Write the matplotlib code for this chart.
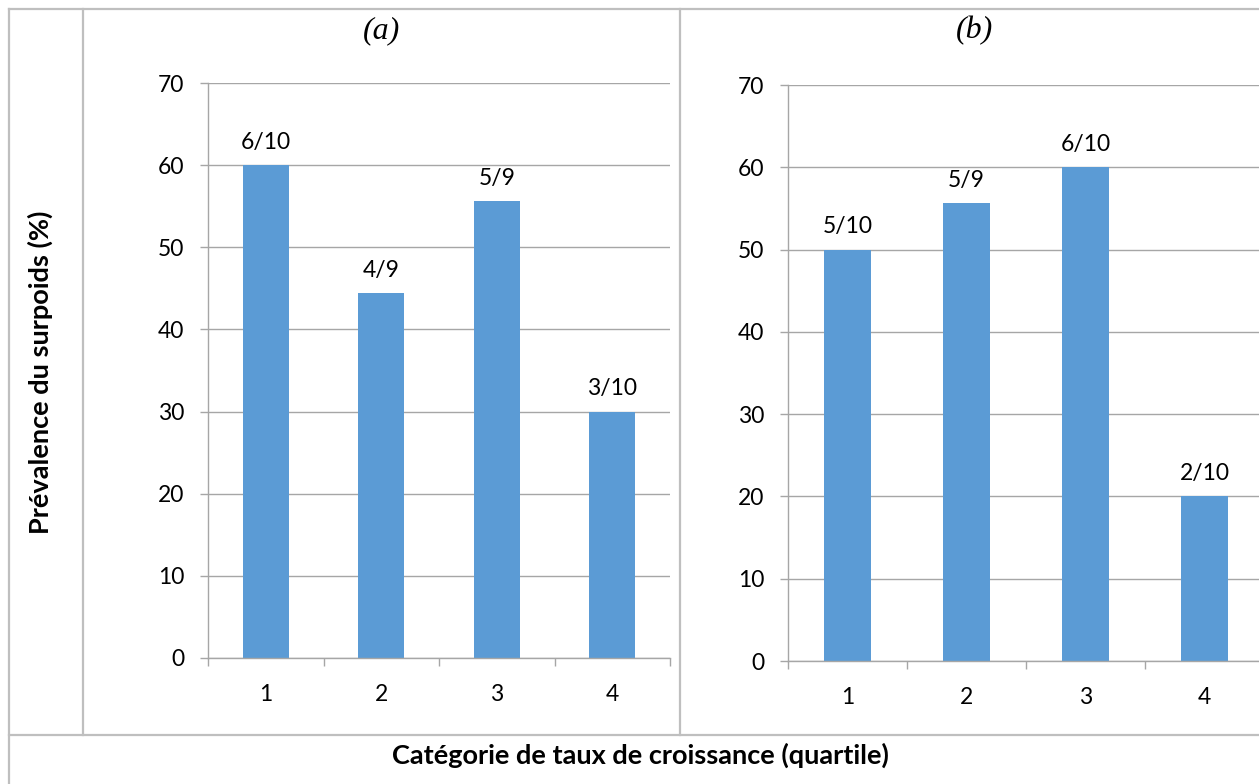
import matplotlib
matplotlib.use("Agg")
import matplotlib.pyplot as plt
from matplotlib.lines import Line2D

# data
categories = ["1", "2", "3", "4"]
prev_a = [60.0, 44.4, 55.6, 30.0]
labels_a = ["6/10", "4/9", "5/9", "3/10"]
prev_b = [50.0, 55.6, 60.0, 20.0]
labels_b = ["5/10", "5/9", "6/10", "2/10"]
yticks = [0, 10, 20, 30, 40, 50, 60, 70]

W, H = 1259, 784
BAR = "#5b9bd5"
GRID = "#a6a6a6"
BORDER = "#bfbfbf"

plt.rcParams["font.family"] = ["Lato", "DejaVu Sans"]

fig = plt.figure(figsize=(W / 100, H / 100), dpi=100)


def fx(px):
    return px / W


def fy(py):
    return 1 - py / H


def panel(rect, vals, labs):
    ax = fig.add_axes(rect)
    x = list(range(len(categories)))
    ax.bar(x, vals, width=0.4, color=BAR, zorder=2)
    for xi, v, t in zip(x, vals, labs):
        ax.annotate(t, (xi, v), xytext=(0, 9), textcoords="offset points",
                    ha="center", va="bottom", fontsize=16.5, color="#000000")
    ax.set_xlim(-0.5, 3.5)
    ax.set_ylim(0, 70)
    ax.set_yticks(yticks)
    ax.set_xticks(x)
    ax.set_xticklabels(categories)
    ax.set_xticks([-0.5, 0.5, 1.5, 2.5, 3.5], minor=True)
    ax.tick_params(axis="x", which="major", length=0, pad=19, labelsize=16.5)
    ax.tick_params(axis="x", which="minor", length=6, width=1, color=GRID,
                   direction="out")
    ax.tick_params(axis="y", length=6, width=1, color=GRID, pad=11,
                   labelsize=16.5)
    ax.yaxis.grid(True, color=GRID, lw=1, zorder=0)
    ax.set_axisbelow(True)
    for s in ["top", "right"]:
        ax.spines[s].set_visible(False)
    for s in ["left", "bottom"]:
        ax.spines[s].set_color(GRID)
        ax.spines[s].set_linewidth(1)
    return ax


panel([fx(208), fy(658), fx(670) - fx(208), fy(83) - fy(658)], prev_a, labels_a)
panel([fx(788), fy(661), fx(1264) - fx(788), fy(85) - fy(661)], prev_b, labels_b)

# table borders around the panels
segments = [
    ((9, 1259), (9, 9)),
    ((9, 9), (9, 784)),
    ((83, 83), (9, 735)),
    ((680, 680), (9, 735)),
    ((9, 1259), (735, 735)),
]
for xs, ys in segments:
    fig.add_artist(Line2D([fx(v) for v in xs], [fy(v) for v in ys],
                          color=BORDER, lw=1.6, transform=fig.transFigure))

fig.text(fx(382), fy(31), "(a)", ha="center", va="center", fontsize=23,
         family="Liberation Serif", style="italic")
fig.text(fx(975), fy(31), "(b)", ha="center", va="center", fontsize=23,
         family="Liberation Serif", style="italic")
fig.text(fx(40), fy(372), "Prévalence du surpoids (%)", rotation=90,
         ha="center", va="center", fontsize=19.5, fontweight="bold")
fig.text(fx(640), fy(755), "Catégorie de taux de croissance (quartile)",
         ha="center", va="center", fontsize=19.5, fontweight="bold")

fig.savefig("out.png", dpi=100, facecolor="white")
